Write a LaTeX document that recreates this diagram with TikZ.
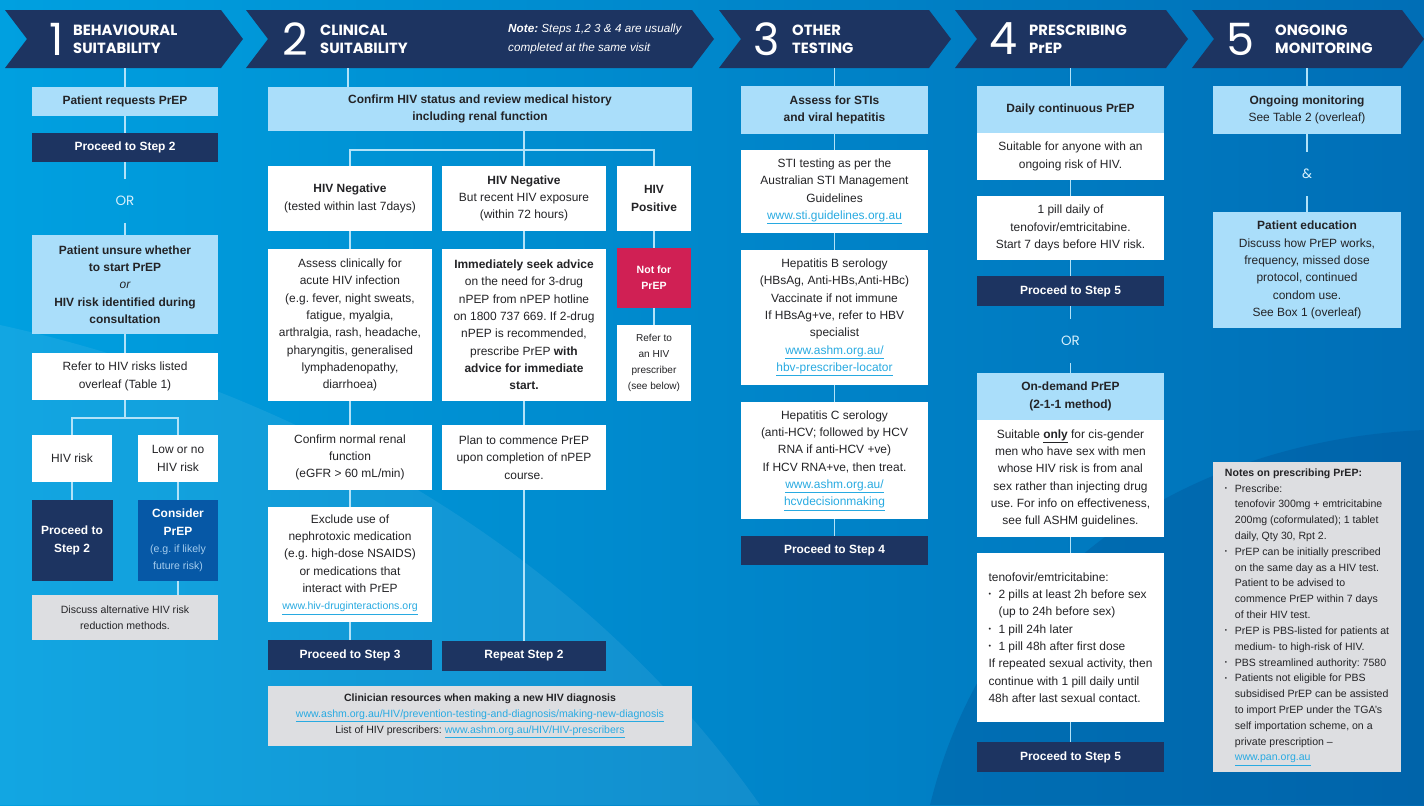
\documentclass[tikz,border=0pt]{standalone}
\usepackage{fontspec}
\setmainfont{Liberation Sans}
\newfontfamily\headfont{Poppins}
\usepackage{tikz}
\definecolor{prep_navy}{RGB}{29,52,97}
\definecolor{prep_sky}{RGB}{170,222,250}
\definecolor{prep_grey}{RGB}{221,222,225}
\definecolor{prep_link}{RGB}{40,170,225}
\definecolor{prep_red}{RGB}{208,32,84}
\definecolor{prep_mid}{RGB}{6,88,166}
\definecolor{prep_pale}{RGB}{165,205,238}
\definecolor{prep_line}{RGB}{178,226,248}
\definecolor{prep_or}{RGB}{215,240,252}
\definecolor{prep_text}{RGB}{35,35,38}
\definecolor{bg_left}{RGB}{0,160,224}
\definecolor{bg_right}{RGB}{0,110,182}
\definecolor{bg_deep}{RGB}{0,82,150}
\frenchspacing
% text sizes
\newcommand{\bodysize}{\fontsize{10.2}{14.8}\selectfont}
\newcommand{\smallsize}{\fontsize{9}{13.6}\selectfont}
\newcommand{\lnk}[1]{\textcolor{prep_link}{\underline{#1}}}
\newcommand{\bul}{\makebox[8.5pt][l]{\raisebox{0.25ex}{\scalebox{0.6}{\textbullet}}}}
\newcommand{\ind}{\hspace*{8.5pt}}

\begin{document}
\begin{tikzpicture}[x=0.03cm, y=-0.03cm,
    box/.style={rectangle, inner sep=0pt, align=center, font=\bodysize, text=prep_text},
    lb/.style={box, fill=prep_sky},
    wb/.style={box, fill=white},
    nb/.style={box, fill=prep_navy, text=white, font=\bodysize\bfseries},
    gb/.style={box, fill=prep_grey},
    bw/.style={minimum width=#1*0.03cm},
    bh/.style={minimum height=#1*0.03cm},
    ln/.style={draw=prep_line, line width=1.3pt},
    chev/.style={fill=prep_navy},
    stepnum/.style={text=white, inner sep=0pt, font=\headfont\fontsize{38}{38}\selectfont},
    steptitle/.style={text=white, align=left, anchor=west, inner sep=0pt,
                      font=\headfont\bfseries\fontsize{12.6}{15.6}\selectfont},
    orlbl/.style={text=prep_or, inner sep=0pt, minimum height=44*0.03cm,
                  font=\headfont\fontsize{11.5}{11.5}\selectfont}]
  \useasboundingbox (0,0) rectangle (1424,805);
  \clip (0,0) rectangle (1424,805);

  % background
  \shade[left color=bg_left, right color=bg_right] (0,0) rectangle (1424,805);
  \fill[white, opacity=0.07] (0,325) .. controls (250,380) and (560,520) .. (760,805) -- (0,805) -- cycle;
  \fill[bg_deep, opacity=0.35] (930,805) .. controls (990,560) and (1200,440) .. (1424,430) -- (1424,805) -- cycle;

  % step chevrons
  \fill[chev] (5,10) -- (221,10) -- (243,39) -- (221,68) -- (5,68) -- (27,39) -- cycle;
  \fill[chev] (246,10) -- (692,10) -- (714,39) -- (692,68) -- (246,68) -- (268,39) -- cycle;
  \fill[chev] (719,10) -- (929,10) -- (951,39) -- (929,68) -- (719,68) -- (741,39) -- cycle;
  \fill[chev] (955,10) -- (1166,10) -- (1188,39) -- (1166,68) -- (955,68) -- (977,39) -- cycle;
  \fill[chev] (1192,10) -- (1402,10) -- (1424,39) -- (1402,68) -- (1192,68) -- (1214,39) -- cycle;

  \node[stepnum] (n1) at (57,39) {1};
  \node[steptitle] (t1) at (73,39) {BEHAVIOURAL\\SUITABILITY};
  \node[stepnum] (n2) at (295,39) {2};
  \node[steptitle] (t2) at (320,39) {CLINICAL\\SUITABILITY};
  \node[anchor=west, text=white, align=left, inner sep=0pt,
        font=\fontsize{10}{17}\selectfont\itshape] (note) at (508,39)
        {\textbf{Note:} Steps 1,2 3 \& 4 are usually\\completed at the same visit};
  \node[stepnum] (n3) at (767,39) {3};
  \node[steptitle] (t3) at (792,39) {OTHER\\TESTING};
  \node[stepnum] (n4) at (1003,39) {4};
  \node[steptitle] (t4) at (1029,39) {PRESCRIBING\\PrEP};
  \node[stepnum] (n5) at (1240,39) {5};
  \node[steptitle] (t5) at (1275,39) {ONGOING\\MONITORING};

  \coordinate (h1) at (125,68);
  \coordinate (h2) at (348,68);
  \coordinate (h3) at (834.5,68);
  \coordinate (h4) at (1070.5,68);
  \coordinate (h5) at (1307,68);

  % 1 behavioural suitability
  \node[lb, bw=186, bh=29, font=\bodysize\bfseries] (req) at (125,101.5) {Patient requests PrEP};
  \node[nb, bw=186, bh=29] (p2a) at (125,147.5) {Proceed to Step 2};
  \node[orlbl] (or1) at (125,201) {OR};
  \node[lb, bw=186, bh=99, font=\bodysize\bfseries] (unsure) at (125,284.5)
    {Patient unsure whether\\to start PrEP\\{\mdseries\itshape or}\\HIV risk identified during\\consultation};
  \node[wb, bw=186, bh=47] (tbl1) at (125,376.5) {Refer to HIV risks listed\\overleaf (Table 1)};
  \coordinate (fk1) at (125,418);
  \node[wb, bw=80, bh=47] (risk) at (72,458.5) {HIV risk};
  \node[wb, bw=80, bh=47] (lowrisk) at (178,458.5) {Low or no\\HIV risk};
  \node[nb, bw=81, bh=81] (p2b) at (72,540.5) {Proceed to\\Step 2};
  \node[box, fill=prep_mid, text=white, bw=80, bh=81, font=\bodysize\bfseries] (consider) at (178,540.5)
    {Consider\\PrEP\\{\smallsize\mdseries\color{prep_pale}(e.g. if likely}\\{\smallsize\mdseries\color{prep_pale}future risk)}};
  \node[gb, bw=186, bh=45, font=\smallsize] (discuss) at (125,617.5)
    {Discuss alternative HIV risk\\reduction methods.};

  \draw[ln] (h1) -- (req);
  \draw[ln] (req) -- (p2a);
  \draw[ln] (p2a) -- (or1);
  \draw[ln] (or1) -- (unsure);
  \draw[ln] (unsure) -- (tbl1);
  \draw[ln] (tbl1) -- (fk1);
  \draw[ln] (risk) |- (fk1) -| (lowrisk);
  \draw[ln] (risk) -- (p2b);
  \draw[ln] (lowrisk) -- (consider);
  \draw[ln] (consider) -- (consider |- discuss.north);

  % 2 clinical suitability
  \node[lb, bw=424, bh=44, font=\bodysize\bfseries] (confirm) at (480,109)
    {Confirm HIV status and review medical history\\including renal function};
  \coordinate (fk2) at (524,150);
  \node[wb, bw=164, bh=65] (neg1) at (350,198.5) {\textbf{HIV Negative}\\(tested within last 7days)};
  \node[wb, bw=164, bh=65] (neg2) at (524,198.5) {\textbf{HIV Negative}\\But recent HIV exposure\\(within 72 hours)};
  \node[wb, bw=74, bh=65, font=\bodysize\bfseries] (pos) at (654,198.5) {HIV\\Positive};
  \node[wb, bw=164, bh=152] (assess) at (350,325)
    {Assess clinically for\\acute HIV infection\\(e.g. fever, night sweats,\\fatigue, myalgia,\\arthralgia, rash, headache,\\pharyngitis, generalised\\lymphadenopathy,\\diarrhoea)};
  \node[wb, bw=164, bh=152] (seek) at (524,325)
    {\textbf{Immediately seek advice}\\on the need for 3-drug\\nPEP from nPEP hotline\\on 1800 737 669. If 2-drug\\nPEP is recommended,\\prescribe PrEP \textbf{with}\\\textbf{advice for immediate}\\\textbf{start.}};
  \node[box, fill=prep_red, text=white, bw=74, bh=60, font=\smallsize\bfseries] (notfor) at (654,278) {Not for\\PrEP};
  \node[wb, bw=74, bh=76, font=\fontsize{8.6}{13.6}\selectfont] (referp) at (654,363)
    {Refer to\\an HIV\\prescriber\\(see below)};
  \node[wb, bw=164, bh=65] (renal) at (350,457.5) {Confirm normal renal\\function\\(eGFR > 60 mL/min)};
  \node[wb, bw=164, bh=65] (plan) at (524,457.5) {Plan to commence PrEP\\upon completion of nPEP\\course.};
  \node[wb, bw=164, bh=115] (nephro) at (350,564.5)
    {Exclude use of\\nephrotoxic medication\\(e.g. high-dose NSAIDS)\\or medications that\\interact with PrEP\\{\smallsize\lnk{www.hiv-druginteractions.org}}};
  \node[nb, bw=164, bh=30] (p3) at (350,655) {Proceed to Step 3};
  \node[nb, bw=164, bh=30] (rep2) at (524,656) {Repeat Step 2};
  \node[gb, bw=424, bh=60, font=\smallsize] (clin) at (480,716)
    {\textbf{Clinician resources when making a new HIV diagnosis}\\\lnk{www.ashm.org.au/HIV/prevention-testing-and-diagnosis/making-new-diagnosis}\\List of HIV prescribers: \lnk{www.ashm.org.au/HIV/HIV-prescribers}};

  \draw[ln] (h2) -- (h2 |- confirm.north);
  \draw[ln] (confirm.south -| neg2) -- (neg2);
  \draw[ln] (neg1) |- (fk2) -| (pos);
  \draw[ln] (neg1) -- (assess);
  \draw[ln] (assess) -- (renal);
  \draw[ln] (renal) -- (nephro);
  \draw[ln] (nephro) -- (p3);
  \draw[ln] (neg2) -- (seek);
  \draw[ln] (seek) -- (plan);
  \draw[ln] (plan) -- (rep2);
  \draw[ln] (pos) -- (notfor);
  \draw[ln] (notfor) -- (referp);

  % 3 other testing
  \node[lb, bw=187, bh=48, font=\bodysize\bfseries] (sti) at (834.5,110) {Assess for STIs\\and viral hepatitis};
  \node[wb, bw=187, bh=83] (stitest) at (834.5,191.5)
    {STI testing as per the\\Australian STI Management\\Guidelines\\\lnk{www.sti.guidelines.org.au}};
  \node[wb, bw=187, bh=135] (hepb) at (834.5,317.5)
    {Hepatitis B serology\\(HBsAg, Anti-HBs,Anti-HBc)\\Vaccinate if not immune\\If HBsAg+ve, refer to HBV\\specialist\\\lnk{www.ashm.org.au/}\\\lnk{hbv-prescriber-locator}};
  \node[wb, bw=187, bh=117] (hepc) at (834.5,460.5)
    {Hepatitis C serology\\(anti-HCV; followed by HCV\\RNA if anti-HCV +ve)\\If HCV RNA+ve, then treat.\\\lnk{www.ashm.org.au/}\\\lnk{hcvdecisionmaking}};
  \node[nb, bw=187, bh=29] (p4) at (834.5,550.5) {Proceed to Step 4};

  \draw[ln] (h3) -- (sti);
  \draw[ln] (sti) -- (stitest);
  \draw[ln] (stitest) -- (hepb);
  \draw[ln] (hepb) -- (hepc);
  \draw[ln] (hepc) -- (p4);

  % 4 prescribing
  \node[lb, bw=187, bh=47, font=\bodysize\bfseries] (daily) at (1070.5,109.5) {Daily continuous PrEP};
  \node[wb, bw=187, bh=47] (anyone) at (1070.5,156.5) {Suitable for anyone with an\\ongoing risk of HIV.};
  \node[wb, bw=187, bh=64] (onepill) at (1070.5,228)
    {1 pill daily of\\tenofovir/emtricitabine.\\Start 7 days before HIV risk.};
  \node[nb, bw=187, bh=30] (p5a) at (1070.5,291) {Proceed to Step 5};
  \node[orlbl] (or2) at (1070.5,341) {OR};
  \node[lb, bw=187, bh=47, font=\bodysize\bfseries] (ondemand) at (1070.5,396.5) {On-demand PrEP\\(2-1-1 method)};
  \node[wb, bw=187, bh=117] (only) at (1070.5,478.5)
    {Suitable \underline{\textbf{only}} for cis-gender\\men who have sex with men\\whose HIV risk is from anal\\sex rather than injecting drug\\use. For info on effectiveness,\\see full ASHM guidelines.};
  \node[wb, bw=187, bh=169, align=left] (dose) at (1070.5,637.5)
    {tenofovir/emtricitabine:\\\bul 2 pills at least 2h before sex\\\ind(up to 24h before sex)\\\bul 1 pill 24h later\\\bul 1 pill 48h after first dose\\If repeated sexual activity, then\\continue with 1 pill daily until\\48h after last sexual contact.};
  \node[nb, bw=187, bh=30] (p5b) at (1070.5,757) {Proceed to Step 5};

  \draw[ln] (h4) -- (daily);
  \draw[ln] (anyone) -- (onepill);
  \draw[ln] (onepill) -- (p5a);
  \draw[ln] (p5a) -- (or2);
  \draw[ln] (or2) -- (ondemand);
  \draw[ln] (only) -- (dose);
  \draw[ln] (dose) -- (p5b);

  % 5 ongoing monitoring
  \node[lb, bw=188, bh=48] (monitor) at (1307,110) {\textbf{Ongoing monitoring}\\See Table 2 (overleaf)};
  \node[orlbl] (amp) at (1307,174) {\&};
  \node[lb, bw=188, bh=116] (educ) at (1307,270)
    {\textbf{Patient education}\\Discuss how PrEP works,\\frequency, missed dose\\protocol, continued\\condom use.\\See Box 1 (overleaf)};
  \node[gb, bw=188, bh=310, align=left, font=\fontsize{9}{13.5}\selectfont] (notes) at (1307,617)
    {\textbf{Notes on prescribing PrEP:}\\
     \bul Prescribe:\\
     \ind tenofovir 300mg + emtricitabine\\
     \ind 200mg (coformulated); 1 tablet\\
     \ind daily, Qty 30, Rpt 2.\\
     \bul PrEP can be initially prescribed\\
     \ind on the same day as a HIV test.\\
     \ind Patient to be advised to\\
     \ind commence PrEP within 7 days\\
     \ind of their HIV test.\\
     \bul PrEP is PBS-listed for patients at\\
     \ind medium- to high-risk of HIV.\\
     \bul PBS streamlined authority: 7580\\
     \bul Patients not eligible for PBS\\
     \ind subsidised PrEP can be assisted\\
     \ind to import PrEP under the TGA’s\\
     \ind self importation scheme, on a\\
     \ind private prescription –\\
     \ind \lnk{www.pan.org.au}};

  \draw[ln] (h5) -- (monitor);
  \draw[ln] (monitor) -- (amp);
  \draw[ln] (amp) -- (educ);
\end{tikzpicture}
\end{document}
